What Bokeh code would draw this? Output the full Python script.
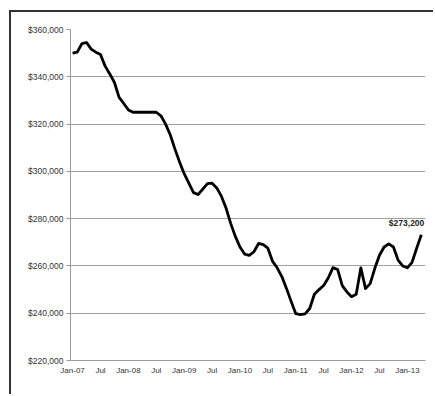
from bokeh.plotting import figure
from bokeh.models import FixedTicker, NumeralTickFormatter, Range1d
from bokeh.core.properties import value
from bokeh.embed import file_html
from bokeh.resources import INLINE

# months since Jan-2007
months = list(range(76))
prices = [
    350000, 350400, 354000, 354500, 351700, 350400, 349400, 344500, 341200, 337600,
    331300, 328700, 326000, 325000, 325000, 325000, 325000, 325000, 325000, 323500,
    320000, 315500, 309500, 304000, 299000, 295000, 291000, 290200, 292500, 294800,
    295000, 293000, 289500, 284500, 278000, 272500, 268000, 265000, 264500, 266000,
    269500, 269000, 267500, 262000, 259200, 255500, 250500, 245000, 239800, 239400,
    239700, 242000, 248000, 250000, 251700, 255000, 259300, 258500, 251700, 249000,
    247000, 248000, 259200, 250400, 252500, 259000, 264500, 268000, 269300, 268000,
    262500, 260000, 259200, 261500, 267500, 273200,
]
tick_positions = [0, 6, 12, 18, 24, 30, 36, 42, 48, 54, 60, 66, 72]
tick_labels = ["Jan-07", "Jul", "Jan-08", "Jul", "Jan-09", "Jul", "Jan-10",
               "Jul", "Jan-11", "Jul", "Jan-12", "Jul", "Jan-13"]
y_ticks = [220000, 240000, 260000, 280000, 300000, 320000, 340000, 360000]
last_label = "$273,200"

p = figure(width=424, height=384, output_backend="svg", toolbar_location=None,
           x_range=Range1d(-0.45, 75.9), y_range=Range1d(220000, 360000),
           min_border_left=59, min_border_right=10, min_border_top=17,
           min_border_bottom=36, outline_line_color=None,
           background_fill_color="white", border_fill_color="white")
p.styles = {"border-left": "2px solid #333", "border-top": "2px solid #333",
            "margin-left": "9px", "margin-top": "10px"}

p.line(months, prices, line_color="black", line_width=2.8, line_join="round")
p.text([months[-1]], [prices[-1]], text=[last_label], x_offset=3, y_offset=-7,
       text_align="right", text_baseline="bottom", text_font_size="8.5px",
       text_font_style="bold", text_color="#222222",
       text_font=value("Liberation Sans"))

p.xaxis.ticker = FixedTicker(ticks=tick_positions)
p.xaxis.major_label_overrides = {t: l for t, l in zip(tick_positions, tick_labels)}
p.xaxis.major_tick_out = 0
p.xaxis.major_tick_in = 0
p.xaxis.minor_tick_line_color = None
p.xaxis.axis_line_color = "#999999"
p.xaxis.major_label_text_font = "Liberation Sans"
p.xaxis.major_label_text_font_size = "8px"
p.xaxis.major_label_text_color = "#333333"
p.xaxis.major_label_standoff = 5

p.yaxis.ticker = FixedTicker(ticks=y_ticks)
p.yaxis.formatter = NumeralTickFormatter(format="$0,0")
p.yaxis.major_tick_out = 4
p.yaxis.major_tick_in = 0
p.yaxis.major_tick_line_color = "#999999"
p.yaxis.minor_tick_line_color = None
p.yaxis.axis_line_color = "#999999"
p.yaxis.major_label_text_font = "Liberation Sans"
p.yaxis.major_label_text_font_size = "8.5px"
p.yaxis.major_label_text_color = "#333333"
p.yaxis.major_label_standoff = 3

p.xgrid.grid_line_color = None
p.ygrid.grid_line_color = "#a0a0a0"
p.ygrid.grid_line_width = 1

open("out.html", "w").write(file_html(p, INLINE))
